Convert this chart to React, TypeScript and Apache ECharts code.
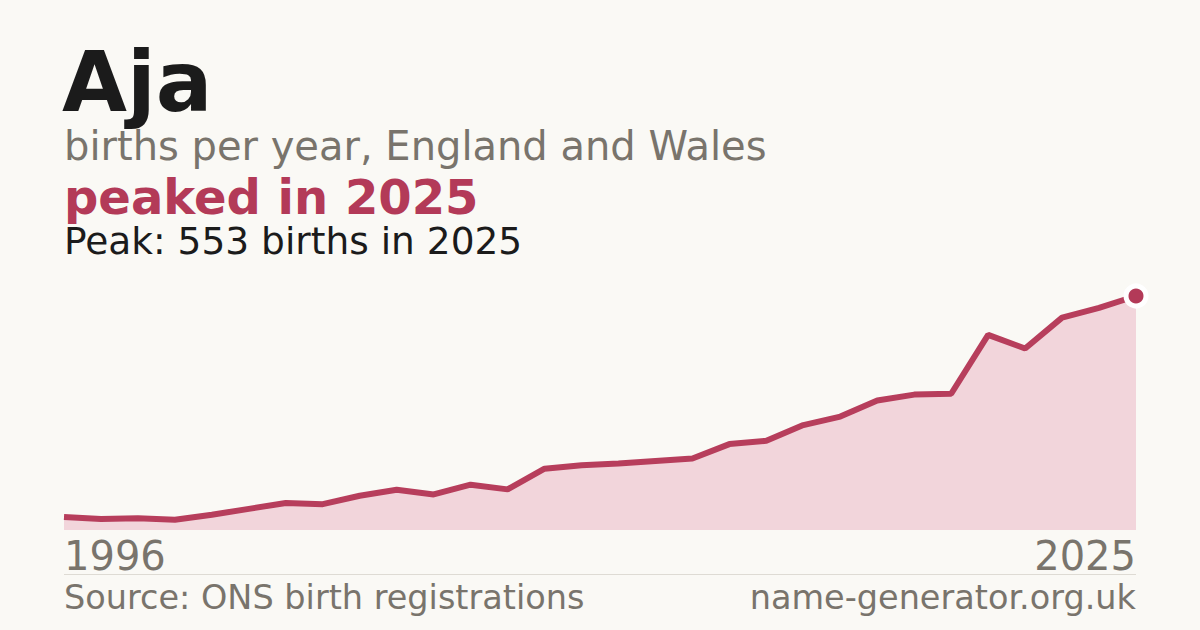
import React, { useEffect, useRef } from "react";
import * as echarts from "echarts";

const years = [
  "1996", "1997", "1998", "1999", "2000", "2001", "2002", "2003", "2004", "2005",
  "2006", "2007", "2008", "2009", "2010", "2011", "2012", "2013", "2014", "2015",
  "2016", "2017", "2018", "2019", "2020", "2021", "2022", "2023", "2024", "2025",
];
const births = [
  31, 26, 28, 24, 36, 50, 64, 61, 81, 95,
  84, 107, 96, 145, 153, 157, 163, 169, 203, 211,
  248, 268, 306, 320, 322, 461, 429, 502, 525, 553,
];
const nameText = "Aja";
const subtitleText = "births per year, England and Wales";
const headlineText = "peaked in 2025";
const peakText = "Peak: 553 births in 2025";
const sourceText = "Source: ONS birth registrations";
const siteText = "name-generator.org.uk";

const FONT = "DejaVu Sans";
const BG = "#faf9f5";
const GRAY = "#79746c";
const DARK = "#1b1b1b";
const CRIMSON = "#b33a58";

export default function App() {
  const ref = useRef<HTMLDivElement>(null);
  useEffect(() => {
    if (!ref.current) return;
    const chart = echarts.init(ref.current, undefined, { renderer: "svg" });
    const last = births.length - 1;
    const seriesData = births.map((v, i) =>
      i === last
        ? {
            value: v,
            symbol: "circle",
            symbolSize: 20,
            itemStyle: { color: CRIMSON, borderColor: "#ffffff", borderWidth: 5 },
          }
        : v
    );
    chart.setOption({
      animation: false,
      backgroundColor: BG,
      grid: { left: 64, right: 64, top: 296, bottom: 100, containLabel: false },
      xAxis: {
        type: "category",
        data: years,
        boundaryGap: false,
        axisLine: { show: false },
        axisTick: { show: false },
        splitLine: { show: false },
        axisLabel: {
          interval: (i: number) => i === 0 || i === last,
          showMinLabel: true,
          showMaxLabel: true,
          alignMinLabel: "left",
          alignMaxLabel: "right",
          fontSize: 40,
          fontFamily: FONT,
          color: GRAY,
          margin: 6,
        },
      },
      yAxis: {
        type: "value",
        min: 0,
        max: 553,
        show: false,
      },
      series: [
        {
          type: "line",
          data: seriesData,
          symbol: "none",
          showSymbol: true,
          lineStyle: { color: "#b73e5c", width: 6 },
          itemStyle: { color: CRIMSON },
          areaStyle: { color: "#f2d5db", opacity: 1 },
          silent: true,
        },
      ],
      graphic: [
        {
          type: "text",
          x: 62,
          y: 82,
          style: { text: nameText, font: `bold 84px '${FONT}'`, fill: DARK, verticalAlign: "middle", lineHeight: 70 },
        },
        {
          type: "text",
          x: 64,
          y: 145.5,
          style: { text: subtitleText, font: `40px '${FONT}'`, fill: GRAY, verticalAlign: "middle", lineHeight: 36 },
        },
        {
          type: "text",
          x: 64,
          y: 197,
          style: { text: headlineText, font: `bold 48px '${FONT}'`, fill: CRIMSON, verticalAlign: "middle", lineHeight: 40 },
        },
        {
          type: "text",
          x: 64,
          y: 240.5,
          style: { text: peakText, font: `37.5px '${FONT}'`, fill: DARK, verticalAlign: "middle", lineHeight: 32 },
        },
        {
          type: "line",
          shape: { x1: 64, y1: 574.5, x2: 1136, y2: 574.5 },
          style: { stroke: "#dedbd4", lineWidth: 1 },
        },
        {
          type: "text",
          x: 64,
          y: 597,
          style: { text: sourceText, font: `33.5px '${FONT}'`, fill: GRAY, verticalAlign: "middle" },
        },
        {
          type: "text",
          x: 1136,
          y: 597,
          style: { text: siteText, font: `33.5px '${FONT}'`, fill: GRAY, align: "right", verticalAlign: "middle" },
        },
      ],
    });
    return () => chart.dispose();
  }, []);
  return (
    <div
      ref={ref}
      style={{ position: "absolute", left: 0, top: 0, width: 1200, height: 630 }}
    />
  );
}
